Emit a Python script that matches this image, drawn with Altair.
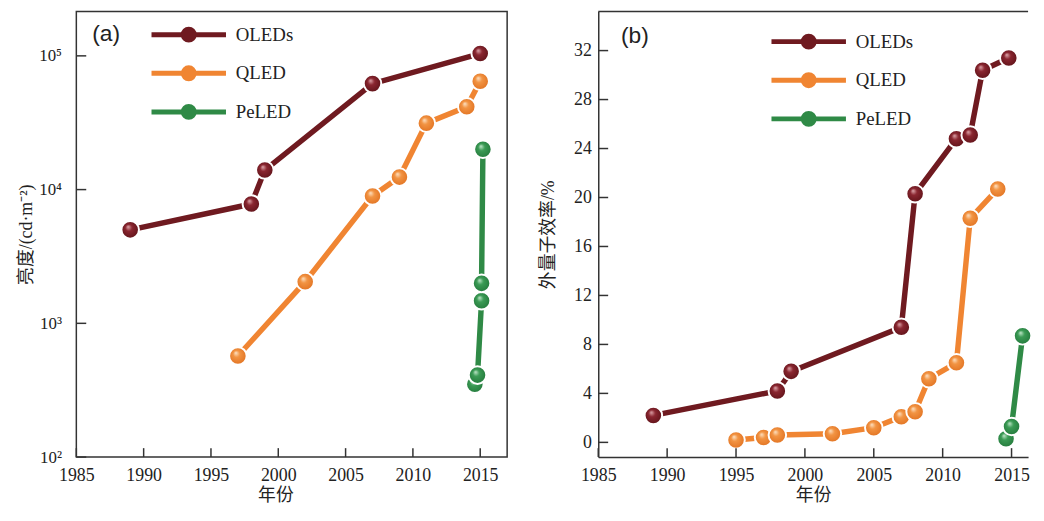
import altair as alt
import pandas as pd

SERIES = ["OLEDs", "QLED", "PeLED"]
COLORS = ["#6f1a20", "#f08532", "#2f8a46"]
LIGHT = ["#e0a9ae", "#fde3c6", "#c3e8cc"]
MID = ["#8a2630", "#f29443", "#3b9b55"]
DARK = ["#5c1117", "#e0701f", "#22773a"]

# ---- panel (a): luminance (cd/m2) ----
a_oled_year = [1989, 1998, 1999, 2007, 2015]
a_oled_val = [5000, 7800, 14000, 62000, 104000]
a_qled_year = [1997, 2002, 2007, 2009, 2011, 2014, 2015]
a_qled_val = [570, 2050, 8950, 12400, 31400, 41600, 64600]
a_pe_year = [2014.6, 2014.8, 2015.1, 2015.1, 2015.2]
a_pe_val = [350, 410, 1475, 1990, 20000]

# ---- panel (b): EQE (%) ----
b_oled_year = [1989, 1998, 1999, 2007, 2008, 2011, 2012, 2012.9, 2014.8]
b_oled_val = [2.2, 4.2, 5.8, 9.4, 20.3, 24.8, 25.1, 30.4, 31.4]
b_qled_year = [1995, 1997, 1998, 2002, 2005, 2007, 2008, 2009, 2011, 2012, 2014]
b_qled_val = [0.2, 0.4, 0.6, 0.7, 1.2, 2.1, 2.5, 5.2, 6.5, 18.3, 20.7]
b_pe_year = [2014.6, 2015.0, 2015.8]
b_pe_val = [0.3, 1.3, 8.7]

x_ticks = [1985, 1990, 1995, 2000, 2005, 2010, 2015]
a_y_ticks = [100, 1000, 10000, 100000]
b_y_ticks = [0, 4, 8, 12, 16, 20, 24, 28, 32]

AX = "#333333"
TXT = "#222222"
SERIF = "Liberation Serif"
FONT = "'Liberation Serif', 'Noto Sans CJK SC'"
LEGEND_PATH = ("M-4.7,0H4.7"
               "M0.69,0A0.69,0.69,0,1,1,-0.69,0A0.69,0.69,0,1,1,0.69,0"
               "M0.31,0A0.31,0.31,0,1,1,-0.31,0A0.31,0.31,0,1,1,0.31,0")


def frame(years_list, vals_list):
    rows = []
    for s, ys, vs in zip(SERIES, years_list, vals_list):
        for i, (yr, v) in enumerate(zip(ys, vs)):
            rows.append({"series": s, "year": yr, "value": v, "order": i})
    return pd.DataFrame(rows)


def grad(i):
    return {
        "gradient": "radial",
        "x1": 0.38, "y1": 0.32, "r1": 0.0,
        "x2": 0.5, "y2": 0.5, "r2": 0.55,
        "stops": [
            {"offset": 0.0, "color": LIGHT[i]},
            {"offset": 0.35, "color": MID[i]},
            {"offset": 1.0, "color": DARK[i]},
        ],
    }


def panel(df, W, H, xdom, yscale, xaxis, yaxis, leg_x, leg_y, leg_off, label, lab_xy, framed):
    x = alt.X("year:Q", scale=alt.Scale(domain=xdom, nice=False, zero=False), axis=xaxis)
    y = alt.Y("value:Q", scale=yscale, axis=yaxis)
    base = alt.Chart(df)
    lines = base.mark_line(strokeWidth=5.5).encode(
        x=x, y=y,
        color=alt.Color(
            "series:N",
            scale=alt.Scale(domain=SERIES, range=COLORS),
            legend=alt.Legend(
                title=None, orient="none", legendX=leg_x, legendY=leg_y,
                symbolType=LEGEND_PATH, symbolSize=256, symbolStrokeWidth=5,
                labelOffset=leg_off, rowPadding=6, padding=0,
                labelFontSize=19, labelFont=SERIF, labelColor=TXT,
            ),
        ),
        order="order:Q",
    )
    dots = [
        base.transform_filter(alt.datum.series == s)
        .mark_circle(size=314, opacity=1, fill=grad(i), stroke="white", strokeWidth=2)
        .encode(x=x, y=y)
        for i, s in enumerate(SERIES)
    ]
    xt = alt.Chart(pd.DataFrame({"year": x_ticks})).mark_rule(color=AX, strokeWidth=1.5).encode(
        x=x, y=alt.value(H), y2=alt.value(H - 9))
    yvals = a_y_ticks if framed else b_y_ticks
    yt = alt.Chart(pd.DataFrame({"value": yvals})).mark_rule(color=AX, strokeWidth=1.5).encode(
        y=y, x=alt.value(0), x2=alt.value(10))
    lab = alt.Chart(pd.DataFrame({"t": [label]})).mark_text(
        font="Liberation Sans", fontSize=23, align="left", baseline="middle", color=TXT
    ).encode(x=alt.value(lab_xy[0]), y=alt.value(lab_xy[1]), text="t:N")
    layers = [lines] + dots + [xt, yt, lab]
    if not framed:
        top = alt.Chart(pd.DataFrame({"k": [0]})).mark_rule(color=AX, strokeWidth=1.5).encode(
            x=alt.value(0), x2=alt.value(W), y=alt.value(0))
        layers.append(top)
    ch = alt.layer(*layers).properties(width=W, height=H)
    if not framed:
        ch = ch.properties(view=alt.ViewBackground(stroke=None))
    return ch


dfa = frame([a_oled_year, a_qled_year, a_pe_year], [a_oled_val, a_qled_val, a_pe_val])
dfb = frame([b_oled_year, b_qled_year, b_pe_year], [b_oled_val, b_qled_val, b_pe_val])

HA = 450
sup = "['⁰','¹','²','³','⁴','⁵','⁶']"
common = dict(labelFont=SERIF, titleFont=FONT, labelColor=TXT, titleColor=TXT,
              titleFontWeight="normal", titleFontSize=18, tickSize=0, grid=False)
pa = panel(
    dfa, 435, HA, [1985, 2017],
    alt.Scale(type="log", domain=[100, 215000], nice=False),
    alt.Axis(values=x_ticks, format="d", title="年份", domain=False, labelPadding=10,
             titlePadding=2, titleX=201, labelFlush=False, labelFontSize=18, **common),
    alt.Axis(values=a_y_ticks, labelExpr="'10' + " + sup + "[round(log(datum.value)/LN10)]",
             title="亮度/(cd·m⁻²)", domain=False, labelPadding=15, titlePadding=3,
             labelFontSize=17, **common),
    103, 13, 37, "(a)", (16, 23), True,
)
pb = panel(
    dfb, 434, HA, [1985, 2016.2],
    alt.Scale(domain=[-1.2, 35.2], nice=False, zero=False),
    alt.Axis(values=x_ticks, format="d", title="年份", domain=True, labelPadding=10,
             titlePadding=2, labelFlush=False, labelFontSize=18, domainColor=AX,
             domainWidth=1.5, **common),
    alt.Axis(values=b_y_ticks, title="外量子效率/%", domain=True, labelPadding=7, titlePadding=16,
             labelFontSize=18, domainColor=AX, domainWidth=1.5, **common),
    202, 20, 37, "(b)", (23, 25), False,
)

chart = (
    alt.hconcat(pa, pb, spacing=32)
    .resolve_scale(color="independent", x="independent", y="independent")
    .resolve_legend(color="independent")
    .configure(font=SERIF, padding={"left": 9, "top": 0, "right": 0, "bottom": 0})
    .configure_view(stroke=AX, strokeWidth=1.5)
)

chart.save("out.html", embed_options={"renderer": "svg", "actions": False})
